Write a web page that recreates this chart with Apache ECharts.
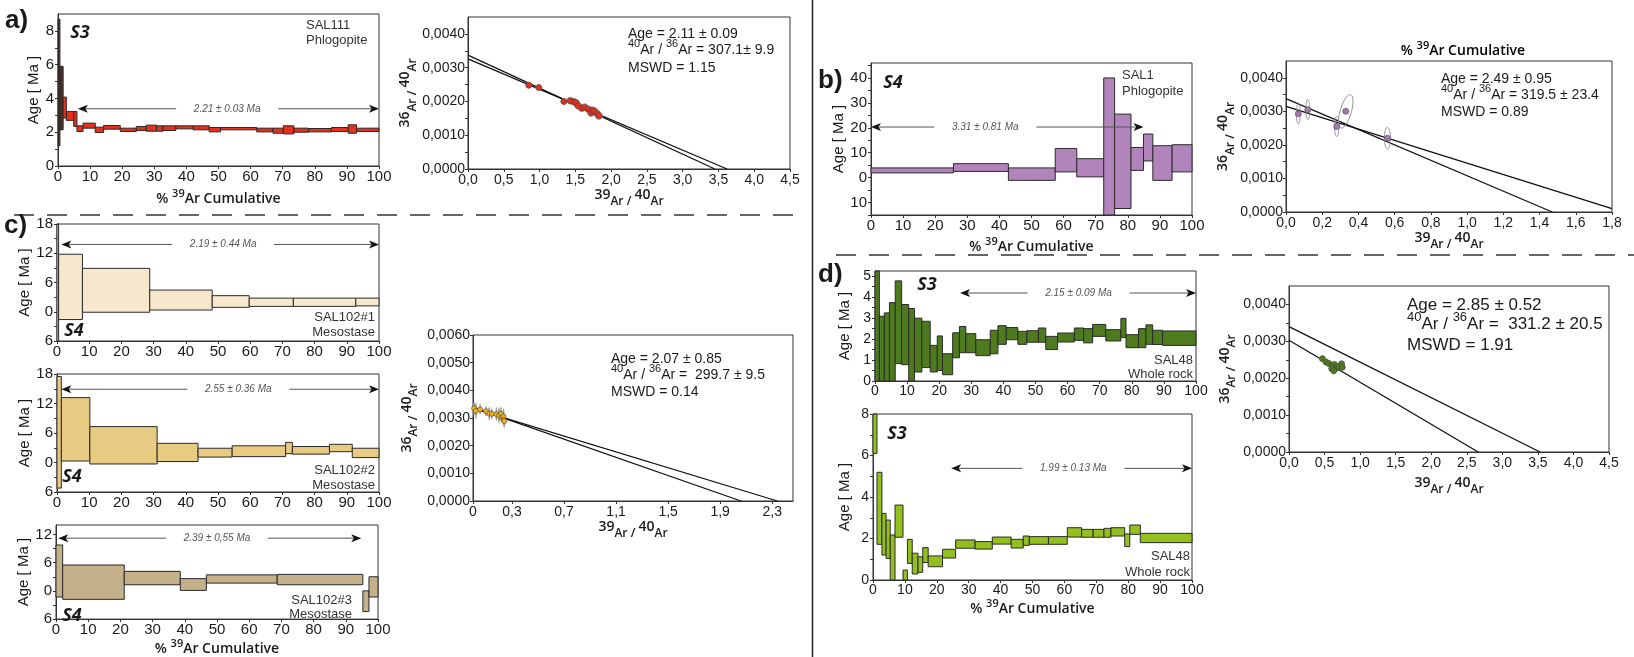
<!DOCTYPE html>
<html><head><meta charset="utf-8">
<script src="https://cdn.jsdelivr.net/npm/echarts@6/dist/echarts.min.js"></script>
<style>html,body{margin:0;padding:0;background:#fff}#c{width:1634px;height:657px}</style>
</head><body><div id="c"></div>
<script>
// ======================= DATA =======================
// Age spectra steps: [cumulative %39Ar start, end, age low (Ma), age high (Ma)]
const pctTicks = [0,10,20,30,40,50,60,70,80,90,100];

// a) SAL111 Phlogopite (S3)
const a_stepsEarly = [[0,0.6,1.2,8.7],[0.6,1.6,2.14,5.9]];
const a_steps = [[1.6,2.6,2.84,4.08],[2.6,4.9,2.7,3.23],[4.9,5.9,2.34,3.23],[5.9,7.8,2.04,2.38],[7.8,11.6,2.24,2.54],[11.6,14.2,1.98,2.3],[14.2,19.4,2.18,2.4],[19.4,24.4,2.04,2.24],[24.4,27.5,2.1,2.34],[27.5,30.7,2.06,2.42],[30.7,32.7,2.06,2.38],[32.7,36.7,2.1,2.38],[36.7,42.1,2.2,2.38],[42.1,47.1,2.14,2.38],[47.1,50.6,2.02,2.28],[50.6,61.9,2.14,2.28],[61.9,67.0,2.02,2.24],[67.0,70.2,1.94,2.24],[70.2,73.5,1.9,2.38],[73.5,78,2.0,2.24],[78,85.2,2.02,2.22],[85.2,90.4,2.04,2.28],[90.4,93,1.94,2.44],[93,100,2.04,2.24]];
const a_plateau = [6.2,100,3.39,52.7];          // [x start, x end, age, label centre]
const a_plateauLabel = '2.21 ± 0.03 Ma';
const a_ageLabels = [0,2,4,6,8];
const a_ageTicks = [0,1,2,3,4,5,6,7,8];
// a) isochron
const a_isoX = [0.85,0.99,1.34,1.43,1.48,1.51,1.54,1.59,1.63,1.68,1.72,1.74,1.77,1.81,1.83];
const a_isoY = [0.00248,0.00241,0.00200,0.00202,0.00199,0.00196,0.00187,0.00180,0.00183,0.00177,0.00166,0.00174,0.00171,0.00163,0.00157];
const a_isoSX = [0.04,0.04,0.04,0.05,0.05,0.05,0.05,0.05,0.05,0.05,0.05,0.05,0.05,0.05,0.05];
const a_isoSY = [0.00008,0.00008,0.00008,0.0001,0.0001,0.0001,0.0001,0.0001,0.0001,0.0001,0.0001,0.0001,0.0001,0.0001,0.0001];
const a_isoLines = [[[0,0.00337],[3.45,0]],[[0,0.00326],[3.62,0]]];
const a_isoXLabels = [0,0.5,1,1.5,2,2.5,3,3.5,4,4.5];
const isoYLabels = [0,0.001,0.002,0.003,0.004];
const isoYTicks = [0,0.0005,0.001,0.0015,0.002,0.0025,0.003,0.0035,0.004];
const a_isoText = ['Age = 2.11 ± 0.09', '307.1± 9.9', 'MSWD = 1.15'];

// b) SAL1 Phlogopite (S4)
const b_steps = [[0,25.7,1.9,3.9],[25.7,42.8,2.5,5.6],[42.8,57.4,-1.1,3.9],[57.4,64.1,2.3,11.7],[64.1,72.5,0.3,7.6],[72.5,75.9,-16,40],[75.9,81,-12.4,25.5],[81,84.9,2.9,12.1],[84.9,87.8,6.7,17.5],[87.8,93.8,-1.1,12.8],[93.8,100,2.3,13.2]];
const b_plateau = [0,84.9,20.3,35.6];
const b_plateauLabel = '3.31 ± 0.81 Ma';
const b_ageLabels = [-10,0,10,20,30,40];
const b_ageTicks = [-15,-10,-5,0,5,10,15,20,25,30,35,40,45];
// b) isochron
const b_isoX = [0.068,0.12,0.28,0.33,0.56];
const b_isoY = [0.00293,0.00305,0.00255,0.0030,0.0022];
const b_isoSX = [0.011,0.011,0.012,0.04,0.017];
const b_isoSY = [0.0003,0.0003,0.0003,0.0005,0.00032];
const b_isoRho = [0,0,0,0.6,0];
const b_isoLines = [[[0,0.00338],[1.47,0]],[[0,0.00315],[1.8,0.0001]]];
const b_isoXLabels = [0,0.2,0.4,0.6,0.8,1,1.2,1.4,1.6,1.8];
const b_isoText = ['Age = 2.49 ± 0.95', '319.5 ± 23.4', 'MSWD = 0.89'];

// c) SAL102 Mesostase (S4)
const c1_steps = [[0,0.5,-6,18],[0.5,7.9,-1.6,11.8],[7.9,28.8,-0.1,8.9],[28.8,48.2,0.35,4.45],[48.2,59.7,0.9,3.3],[59.7,73.4,1.1,2.8],[73.4,92.8,1.1,2.8],[92.8,100,1.2,2.8]];
const c1_plateau = [1.35,100,13.8,51.6];
const c1_plateauLabel = '2.19 ± 0.44 Ma';
const c2_steps = [[0,1.35,-5.2,17.5],[1.35,10.2,0.3,13.2],[10.2,31.1,-0.3,7.3],[31.1,43.8,0.2,3.9],[43.8,54.4,1.1,2.9],[54.4,71.0,1.2,3.4],[71.0,73.1,1.8,4.1],[73.1,84.6,1.7,3.25],[84.6,91.7,2.2,3.7],[91.7,100,1.0,2.9]];
const c2_plateau = [1.35,100,14.9,56.3];
const c2_plateauLabel = '2.55 ± 0.36 Ma';
const c3_steps = [[0,2.07,-1.3,9.75],[2.07,21.2,-1.8,5.5],[21.2,38.6,1.3,4.15],[38.6,46.7,0.1,2.6],[46.7,68.7,1.65,3.4],[68.7,95.3,1.3,3.5],[95.3,97.2,-4.4,0],[97.2,100,-1.3,3.0]];
const c3_plateau = [0.7,94.8,11.2,50];
const c3_plateauLabel = '2.39 ± 0,55 Ma';
const c_ageLabels = [-6,0,6,12,18];
const c_ageTicks = [-6,-3,0,3,6,9,12,15,18];
const c3_ageLabels = [-6,0,6,12];
const c3_ageTicks = [-6,-3,0,3,6,9,12];
// c) isochron
const c_isoX = [0.008,0.023,0.055,0.10,0.125,0.145,0.18,0.20,0.215,0.225,0.235,0.235,0.24];
const c_isoY = [0.00335,0.00326,0.00331,0.00325,0.00316,0.00315,0.00314,0.00309,0.00315,0.00302,0.00305,0.00293,0.00289];
const c_isoSX = [0.008,0.008,0.008,0.008,0.008,0.008,0.008,0.008,0.008,0.008,0.008,0.008,0.008];
const c_isoSY = [0.00025,0.0003,0.0002,0.0002,0.00025,0.0002,0.00025,0.0003,0.00025,0.0002,0.0003,0.0002,0.00025];
const c_isoLines = [[[0,0.00338],[2.06,0]],[[0,0.00335],[2.34,0]]];
const c_isoXLabels = [0,0.3,0.7,1.1,1.5,1.9,2.3];
const c_isoYLabels = [0,0.001,0.002,0.003,0.004,0.005,0.006];
const c_isoText = ['Age = 2.07 ± 0.85', ' 299.7 ± 9.5', 'MSWD = 0.14'];

// d) SAL48 Whole rock (S3)
const d1_steps = [[0,1.35,0,5.6],[1.35,2.9,0,3.09],[2.9,4.5,0,3.25],[4.5,6.3,0,3.74],[6.3,8.3,0.83,4.78],[8.3,10.5,0.78,3.65],[10.5,12.3,0,3.46],[12.3,14.6,0.43,3.0],[14.6,17.2,0.64,2.85],[17.2,19.4,0.43,1.7],[19.4,21,0.5,2.15],[21,24.2,0.3,1.3],[24.2,26.3,1.11,2.3],[26.3,28.3,1.35,2.6],[28.3,31.4,1.35,2.26],[31.4,35.9,1.21,1.97],[35.9,38.3,1.3,2.42],[38.3,40.9,1.75,2.64],[40.9,44.5,1.97,2.55],[44.5,47.3,1.75,2.37],[47.3,50.9,1.85,2.4],[50.9,53.2,1.85,2.53],[53.2,56.9,1.5,2.13],[56.9,62.1,1.86,2.29],[62.1,65,1.94,2.53],[65,67.8,1.82,2.5],[67.8,71.9,2.13,2.7],[71.9,76.6,1.91,2.45],[76.6,78.2,2.07,2.99],[78.2,82.1,1.59,2.21],[82.1,84.4,1.59,2.5],[84.4,86.5,1.75,2.68],[86.5,89.6,1.74,2.42],[89.6,100,1.7,2.39]];
const d1_plateau = [26.5,100,4.2,63.4];
const d1_plateauLabel = '2.15 ± 0.09 Ma';
const d1_ageLabels = [0,1,2,3,4,5];
const d1_ageTicks = [0,0.5,1,1.5,2,2.5,3,3.5,4,4.5,5];
const d2_steps = [[0,1.25,6.1,8.5],[1.25,2.8,1.72,5.19],[2.8,4.1,1.2,3.21],[4.1,5.4,1.04,2.89],[5.4,6.9,0,2.17],[6.9,9.4,2.06,3.61],[9.4,10.8,0,0.48],[10.8,12.3,0.8,1.96],[12.3,14.1,0.29,1.29],[14.1,15.6,0.37,1.12],[15.6,17.3,0.84,1.56],[17.3,21.8,0.64,1.16],[21.8,25.9,1.06,1.48],[25.9,32,1.53,1.93],[32,37.4,1.49,1.85],[37.4,43.3,1.73,2.07],[43.3,47.1,1.54,1.96],[47.1,49,1.67,2.12],[49,55,1.72,2.09],[55,60.9,1.72,2.09],[60.9,65.4,2.07,2.52],[65.4,69,2.06,2.44],[69,72.4,2.06,2.44],[72.4,74.6,2.06,2.49],[74.6,78.9,2.12,2.52],[78.9,80.5,1.61,2.22],[80.5,83.8,2.2,2.65],[83.8,100,1.8,2.25]];
const d2_plateau = [24.5,100,5.38,62.8];
const d2_plateauLabel = '1.99 ± 0.13 Ma';
const d2_ageLabels = [0,2,4,6,8];
const d2_ageTicks = [0,1,2,3,4,5,6,7,8];
// d) isochron
const d_isoX = [0.47,0.52,0.56,0.61,0.64,0.67,0.70,0.74,0.75,0.60,0.63];
const d_isoY = [0.00253,0.00244,0.0024,0.00234,0.00237,0.00228,0.00232,0.00239,0.0023,0.00226,0.0022];
const d_isoSX = [0.03,0.03,0.03,0.03,0.03,0.03,0.03,0.03,0.03,0.03,0.03];
const d_isoSY = [0.00008,0.00008,0.00008,0.00008,0.00008,0.00008,0.00008,0.00008,0.00008,0.00008,0.00008];
const d_isoLines = [[[0,0.00340],[3.53,0]],[[0,0.00303],[2.66,0]]];
const d_isoText = ['Age = 2.85 ± 0.52', ' 331.2 ± 20.5', 'MSWD = 1.91'];

// ======================= BUILD =======================
const TXT = '#1a1a1a', LINE = '#333';
const SANS = '"Liberation Sans", Arial, sans-serif';
const HUM = '"Open Sans", "Noto Sans", sans-serif';
const grids = [], xAxes = [], yAxes = [], series = [], graphics = [];

const pctRich = {
  t:{fontFamily:HUM, fontSize:14, color:TXT, fontWeight:600, verticalAlign:'bottom', lineHeight:18},
  s:{fontFamily:HUM, fontSize:11, color:TXT, fontWeight:600, verticalAlign:'top', lineHeight:18}
};
const PCT_NAME = '{t|% }{s|39}{t|Ar Cumulative}';
const ratioRich = {
  n:{fontFamily:HUM, fontSize:14, color:TXT, fontWeight:600, verticalAlign:'top', lineHeight:20},
  a:{fontFamily:HUM, fontSize:12, color:TXT, fontWeight:600, verticalAlign:'bottom', lineHeight:20}
};
const ratioName = (p, q) => `{n|${p}}{a|Ar / }{n|${q}}{a|Ar}`;

function stepRender(fill){
  return function(params, api){
    const p0 = api.coord([api.value(0), api.value(3)]);
    const p1 = api.coord([api.value(1), api.value(2)]);
    const cs = params.coordSys;
    const r = echarts.graphic.clipRectByRect(
      {x:p0[0], y:p0[1], width:p1[0]-p0[0], height:p1[1]-p0[1]},
      {x:cs.x, y:cs.y, width:cs.width, height:cs.height});
    if (!r) return null;
    return {type:'rect', shape:r, style:{fill:fill, stroke:'#2b2b2b', lineWidth:1}};
  };
}
function arrowRender(label){
  return function(params, api){
    const y = api.value(2);
    const p0 = api.coord([api.value(0), y]);
    const p1 = api.coord([api.value(1), y]);
    const pc = api.coord([api.value(3), y]);
    const gap = 51, ah = 10, aw = 4, yy = p0[1];
    return {type:'group', children:[
      {type:'line', shape:{x1:p0[0]+ah-2, y1:yy, x2:pc[0]-gap, y2:yy}, style:{stroke:'#555', lineWidth:1}},
      {type:'line', shape:{x1:pc[0]+gap, y1:yy, x2:p1[0]-ah+2, y2:yy}, style:{stroke:'#555', lineWidth:1}},
      {type:'polygon', shape:{points:[[p0[0],yy],[p0[0]+ah,yy-aw],[p0[0]+ah-2.5,yy],[p0[0]+ah,yy+aw]]}, style:{fill:'#111'}},
      {type:'polygon', shape:{points:[[p1[0],yy],[p1[0]-ah,yy-aw],[p1[0]-ah+2.5,yy],[p1[0]-ah,yy+aw]]}, style:{fill:'#111'}},
      {type:'text', x:pc[0], y:yy, style:{text:label, fill:'#555', fontSize:10, fontStyle:'italic', fontFamily:SANS, align:'center', verticalAlign:'middle'}}
    ]};
  };
}
function ellipseRender(fill, stroke){
  return function(params, api){
    const c = api.coord([api.value(0), api.value(1)]);
    const sz = api.size([api.value(2), api.value(3)]);
    const rho = api.value(4) || 0;
    const k = Math.sqrt(1 - rho*rho);
    const pts = [];
    for (let i = 0; i < 48; i++){
      const t = i/48*2*Math.PI;
      pts.push([c[0] + sz[0]*Math.cos(t), c[1] - sz[1]*(rho*Math.cos(t) + k*Math.sin(t))]);
    }
    return {type:'polygon', shape:{points:pts}, style:{fill:fill, stroke:stroke, lineWidth:1}};
  };
}

function spectrum(L, S){
  const gi = grids.length;
  grids.push({left:L.box[0], top:L.box[1], width:L.box[2], height:L.box[3], show:true, borderColor:LINE, borderWidth:1});
  xAxes.push({gridIndex:gi, type:'value', min:0, max:100, position:'bottom',
    axisLine:{show:true, onZero:false, lineStyle:{color:LINE}},
    axisTick:{show:true, customValues:pctTicks, length:3, lineStyle:{color:LINE}},
    axisLabel:{customValues:pctTicks, color:TXT, fontFamily:SANS, fontSize:L.fs, margin:3},
    splitLine:{show:false},
    name: L.xName ? PCT_NAME : '', nameLocation:'middle', nameGap:L.xNameGap || 20,
    nameTextStyle:{rich:pctRich}});
  yAxes.push({gridIndex:gi, type:'value', min:S.min, max:S.max,
    axisLine:{show:true, onZero:false, lineStyle:{color:LINE}},
    axisTick:{show:true, customValues:S.ticks, length:3, lineStyle:{color:LINE}},
    axisLabel:{customValues:S.labels, color:TXT, fontFamily:SANS, fontSize:L.fs, margin:4, formatter:v => String(Math.abs(v))},
    splitLine:{show:false},
    name:'Age [ Ma ]', nameLocation:'middle', nameGap:L.yNameGap,
    nameTextStyle:{fontFamily:SANS, fontSize:15, color:TXT}});
  S.layers.forEach(([data, color]) => series.push({type:'custom', xAxisIndex:gi, yAxisIndex:gi, data:data,
    renderItem:stepRender(color), encode:{x:[0,1], y:[2,3]}, silent:true, z:3}));
  series.push({type:'custom', xAxisIndex:gi, yAxisIndex:gi, data:[S.plateau], renderItem:arrowRender(S.plateauLabel),
    encode:{x:[0,1,3], y:2}, silent:true, z:4});
}

function isochron(L, S){
  const gi = grids.length;
  const fmtX = v => (v === 0 && S.plainZero) ? '0' : v.toFixed(1).replace('.', ',');
  grids.push({left:L.box[0], top:L.box[1], width:L.box[2], height:L.box[3], show:true, borderColor:LINE, borderWidth:1});
  xAxes.push({gridIndex:gi, type:'value', min:0, max:S.xmax, position:'bottom',
    axisLine:{show:true, onZero:false, lineStyle:{color:LINE}},
    axisTick:{show:true, customValues:S.xLabels, length:3, lineStyle:{color:LINE}},
    axisLabel:{customValues:S.xLabels, color:TXT, fontFamily:SANS, fontSize:14, margin:4, formatter:fmtX},
    splitLine:{show:false},
    name:ratioName(39, 40), nameLocation:'middle', nameGap:L.xNameGap, nameTextStyle:{rich:ratioRich}});
  yAxes.push({gridIndex:gi, type:'value', min:0, max:S.ymax,
    axisLine:{show:true, onZero:false, lineStyle:{color:LINE}},
    axisTick:{show:true, customValues:S.yTicks, length:3, lineStyle:{color:LINE}},
    axisLabel:{customValues:S.yLabels, color:TXT, fontFamily:SANS, fontSize:14, margin:3, formatter:v => v.toFixed(4).replace('.', ',')},
    splitLine:{show:false},
    name:ratioName(36, 40), nameLocation:'middle', nameGap:L.yNameGap, nameTextStyle:{rich:ratioRich}});
  S.lines.forEach(ln => series.push({type:'line', xAxisIndex:gi, yAxisIndex:gi, data:ln, symbol:'none',
    lineStyle:{color:'#111', width:1.3}, silent:true, z:3}));
  const ell = S.x.map((x, i) => [x, S.y[i], S.sx[i], S.sy[i], S.rho ? S.rho[i] : 0]);
  series.push({type:'custom', xAxisIndex:gi, yAxisIndex:gi, data:ell, renderItem:ellipseRender(S.ellFill, S.ellStroke),
    encode:{x:0, y:1}, silent:true, z:4});
  series.push({type:'scatter', xAxisIndex:gi, yAxisIndex:gi, data:S.x.map((x, i) => [x, S.y[i]]), symbolSize:S.ms || 6,
    itemStyle:{color:S.color, borderColor:'#444', borderWidth:0.6, opacity:1}, silent:true, z:5});
}

// ---- panels ----
spectrum({box:[58,14,321,152], fs:15, yNameGap:17, xName:true, xNameGap:22},
  {min:0, max:9, labels:a_ageLabels, ticks:a_ageTicks, layers:[[a_stepsEarly,'#4a2f28'],[a_steps,'#e2311d']], plateau:a_plateau, plateauLabel:a_plateauLabel});
isochron({box:[468,17,322,152], xNameGap:17, yNameGap:47},
  {xmax:4.5, ymax:0.0045, xLabels:a_isoXLabels, yLabels:isoYLabels, yTicks:isoYTicks, lines:a_isoLines,
   x:a_isoX, y:a_isoY, sx:a_isoSX, sy:a_isoSY, color:'#e2311d', ellFill:'none', ellStroke:'#9a9a9a', ms:6});
spectrum({box:[871,63,321,152], fs:15, yNameGap:20, xName:true, xNameGap:21},
  {min:-15, max:46, labels:b_ageLabels, ticks:b_ageTicks, layers:[[b_steps,'#b185bb']], plateau:b_plateau, plateauLabel:b_plateauLabel});
isochron({box:[1286,61,326,151], xNameGap:16, yNameGap:44},
  {xmax:1.8, ymax:0.0045, xLabels:b_isoXLabels, yLabels:isoYLabels, yTicks:isoYTicks, lines:b_isoLines,
   x:b_isoX, y:b_isoY, sx:b_isoSX, sy:b_isoSY, rho:b_isoRho, color:'#a57aaf', ellFill:'none', ellStroke:'#8f8f8f', ms:6});
spectrum({box:[57,224,322,117], fs:15, yNameGap:20, xName:false},
  {min:-6, max:18, labels:c_ageLabels, ticks:c_ageTicks, layers:[[c1_steps,'#f7e8cd']], plateau:c1_plateau, plateauLabel:c1_plateauLabel});
spectrum({box:[57,374,322,118], fs:15, yNameGap:15, xName:false},
  {min:-6, max:18, labels:c_ageLabels, ticks:c_ageTicks, layers:[[c2_steps,'#e7cb83']], plateau:c2_plateau, plateauLabel:c2_plateauLabel});
spectrum({box:[56,525,322,100], fs:15, yNameGap:14, xName:true, xNameGap:14},
  {min:-6, max:14, labels:c3_ageLabels, ticks:c3_ageTicks, layers:[[c3_steps,'#c4b189']], plateau:c3_plateau, plateauLabel:c3_plateauLabel});
isochron({box:[473,335,320,166], xNameGap:17, yNameGap:53},
  {xmax:2.46, ymax:0.006, plainZero:true, xLabels:c_isoXLabels, yLabels:c_isoYLabels, yTicks:c_isoYLabels, lines:c_isoLines,
   x:c_isoX, y:c_isoY, sx:c_isoSX, sy:c_isoSY, color:'#f2b21a', ellFill:'#9a9a9a', ellStroke:'none', ms:5});
spectrum({box:[875,271,321,110], fs:14, yNameGap:23, xName:false},
  {min:0, max:5.25, labels:d1_ageLabels, ticks:d1_ageTicks, layers:[[d1_steps,'#4e7b1e']], plateau:d1_plateau, plateauLabel:d1_plateauLabel});
spectrum({box:[873,414,319,166], fs:14, yNameGap:21, xName:true, xNameGap:18},
  {min:0, max:8, labels:d2_ageLabels, ticks:d2_ageTicks, layers:[[d2_steps,'#93c01f']], plateau:d2_plateau, plateauLabel:d2_plateauLabel});
isochron({box:[1289,286,320,166], xNameGap:24, yNameGap:51},
  {xmax:4.5, ymax:0.0045, xLabels:a_isoXLabels, yLabels:isoYLabels, yTicks:isoYTicks, lines:d_isoLines,
   x:d_isoX, y:d_isoY, sx:d_isoSX, sy:d_isoSY, color:'#4e7b1e', ellFill:'none', ellStroke:'#a0a0a0', ms:6});

// ---- annotations ----
function txt(x, y, text, font, align, extra){
  graphics.push({type:'text', x:x, y:y, silent:true, z:10,
    style:Object.assign({text:text, font:font, fill:TXT, align:align || 'left', verticalAlign:'middle',
      textAlign:align || 'left', textVerticalAlign:'middle'}, extra || {})});
}
const LETTER = 'bold 26px "Liberation Sans", Arial, sans-serif';
txt(5, 21, 'a)', LETTER); txt(818, 81, 'b)', LETTER); txt(4, 226, 'c)', LETTER); txt(818, 275, 'd)', LETTER);
const SF = 'italic 700 18px "Open Sans", "Noto Sans", sans-serif';
txt(80, 33, 'S3', SF, 'center'); txt(893, 83, 'S4', SF, 'center');
txt(74, 331, 'S4', SF, 'center'); txt(72, 477, 'S4', SF, 'center'); txt(72, 616, 'S4', SF, 'center');
txt(927, 285, 'S3', SF, 'center'); txt(897, 434, 'S3', SF, 'center');
const LB = '13px "Liberation Sans", Arial, sans-serif';
const LBC = '#333';
txt(306, 25, 'SAL111', LB, 'left', {fill:LBC}); txt(306, 40, 'Phlogopite', LB, 'left', {fill:LBC});
txt(1122, 75, 'SAL1', LB, 'left', {fill:LBC}); txt(1122, 91, 'Phlogopite', LB, 'left', {fill:LBC});
txt(375, 317, 'SAL102#1', LB, 'right', {fill:LBC}); txt(375, 332, 'Mesostase', LB, 'right', {fill:LBC});
txt(375, 470, 'SAL102#2', LB, 'right', {fill:LBC}); txt(375, 485, 'Mesostase', LB, 'right', {fill:LBC});
txt(352, 600, 'SAL102#3', LB, 'right', {fill:LBC}); txt(352, 614, 'Mesostase', LB, 'right', {fill:LBC});
txt(1193, 360, 'SAL48', LB, 'right', {fill:LBC}); txt(1193, 374, 'Whole rock', LB, 'right', {fill:LBC});
txt(1190, 556, 'SAL48', LB, 'right', {fill:LBC}); txt(1190, 572, 'Whole rock', LB, 'right', {fill:LBC});

function isoText(x, y0, y1, y2, t, fs){
  const f = fs + 'px "Liberation Sans", Arial, sans-serif';
  txt(x, y0, t[0], f);
  const lh = fs + 5;
  graphics.push({type:'text', x:x, y:y1, silent:true, z:10, style:{
    text:'{s|40}{m|Ar / }{s|36}{m|Ar = ' + t[1] + '}', align:'left', verticalAlign:'middle', textAlign:'left', textVerticalAlign:'middle',
    rich:{m:{fontFamily:SANS, fontSize:fs, fill:TXT, color:TXT, verticalAlign:'bottom', lineHeight:lh},
          s:{fontFamily:SANS, fontSize:Math.round(fs*0.78), fill:TXT, color:TXT, verticalAlign:'top', lineHeight:lh}}}});
  txt(x, y2, t[2], f);
}
isoText(628, 34, 48, 68, a_isoText, 14);
isoText(1441, 79, 93, 112, b_isoText, 14);
isoText(611, 359, 373, 392, c_isoText, 14);
isoText(1407, 305, 322, 345, d_isoText, 17);

// stray axis title above b) isochron
graphics.push({type:'text', x:1463, y:49, silent:true, z:10, style:{text:PCT_NAME, rich:pctRich,
  align:'center', verticalAlign:'middle', textAlign:'center', textVerticalAlign:'middle'}});

// separators
graphics.push({type:'line', silent:true, shape:{x1:812.5, y1:0, x2:812.5, y2:657}, style:{stroke:'#222', lineWidth:1.5}});
graphics.push({type:'line', silent:true, shape:{x1:14, y1:215, x2:800, y2:215}, style:{stroke:'#333', lineWidth:1.3, lineDash:[20,13]}});
graphics.push({type:'line', silent:true, shape:{x1:836, y1:255, x2:1634, y2:255}, style:{stroke:'#333', lineWidth:1.3, lineDash:[20,13]}});

const chart = echarts.init(document.getElementById('c'));
chart.setOption({
  animation:false,
  grid:grids, xAxis:xAxes, yAxis:yAxes, series:series,
  graphic:{elements:graphics}
});
</script></body></html>
